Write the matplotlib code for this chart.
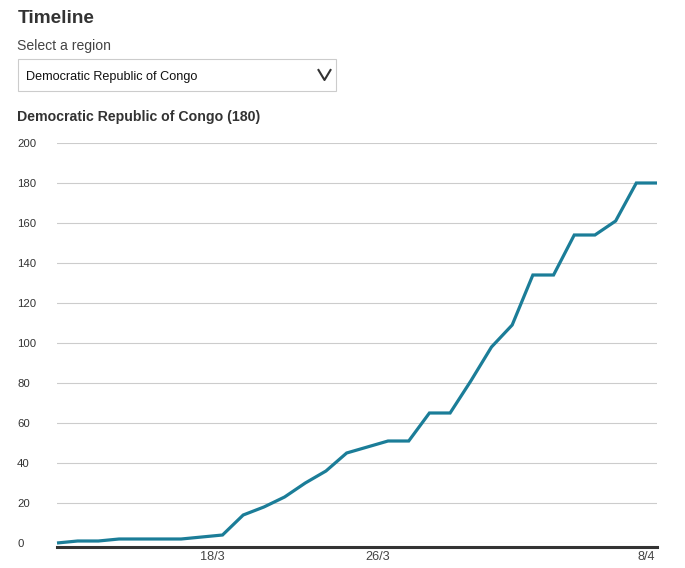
import matplotlib
matplotlib.use("Agg")
import matplotlib.pyplot as plt
import pandas as pd
from matplotlib.lines import Line2D
from matplotlib.patches import Rectangle

plt.rcParams['font.family'] = ['Liberation Sans', 'DejaVu Sans']

# cumulative confirmed cases, one value per day
dates = pd.date_range("2020-03-11", "2020-04-09", freq="D")
cases = [0, 1, 1, 2, 2, 2, 2, 3, 4, 14, 18, 23, 30, 36, 45, 48, 51, 51,
         65, 65, 81, 98, 109, 134, 134, 154, 154, 161, 180, 180]
tick_days = ["2020-03-18", "2020-03-26", "2020-04-08"]
tick_labels = ["18/3", "26/3", "8/4"]
y_ticks = [0, 20, 40, 60, 80, 100, 120, 140, 160, 180, 200]

region = "Democratic Republic of Congo"

W, H = 685, 568
fig = plt.figure(figsize=(W / 100, H / 100), dpi=100)


def fx(px):
    return px / W


def fy(py):
    return 1 - py / H


ax = fig.add_axes([fx(57), fy(543), fx(657) - fx(57), fy(143) - fy(543)])
ax.plot(dates, cases, color="#1b7d98", lw=2.3, solid_joinstyle="miter",
        solid_capstyle="butt", zorder=3, clip_on=False)
ax.set_xlim(dates[0], dates[-1])
ax.set_ylim(0, 200)

ax.set_yticks(y_ticks)
ax.set_yticklabels([str(v) for v in y_ticks])
ax.grid(axis="y", color="#cccccc", lw=0.8)
ax.set_axisbelow(True)
ax.tick_params(axis="y", length=0, pad=28.8, labelsize=8.2, labelcolor="#333333")
for lab in ax.get_yticklabels():
    lab.set_horizontalalignment("left")

# tick labels centred on the middle of their day
ax.set_xticks([pd.Timestamp(d) + pd.Timedelta(hours=12) for d in tick_days])
ax.set_xticklabels(tick_labels)
ax.tick_params(axis="x", length=0, pad=3.2, labelsize=9.2, labelcolor="#444444")

for s in ["top", "right", "left"]:
    ax.spines[s].set_visible(False)
ax.spines["bottom"].set_position(("outward", 2.9))
ax.spines["bottom"].set_color("#333333")
ax.spines["bottom"].set_linewidth(2.2)

# header texts
fig.text(fx(17.5), fy(23), "Timeline", fontsize=13.7, fontweight="bold",
         color="#333333", va="baseline")
fig.text(fx(17), fy(50), "Select a region", fontsize=10.1, color="#444444",
         va="baseline")

# dropdown box
fig.add_artist(Rectangle((fx(17.5), fy(91)), fx(336) - fx(17.5), fy(58.5) - fy(91),
                         transform=fig.transFigure, fill=False,
                         edgecolor="#cccccc", lw=0.8))
fig.text(fx(26), fy(80), region, fontsize=9.1, color="#111111", va="baseline")
fig.add_artist(Line2D([fx(318.5), fx(324.5), fx(330.5)], [fy(70), fy(80), fy(70)],
                      transform=fig.transFigure, color="#333333", lw=1.5))

fig.text(fx(17.3), fy(120.5), f"{region} ({cases[-1]})", fontsize=10.2,
         fontweight="bold", color="#333333", va="baseline")

fig.savefig("out.png", dpi=100)
